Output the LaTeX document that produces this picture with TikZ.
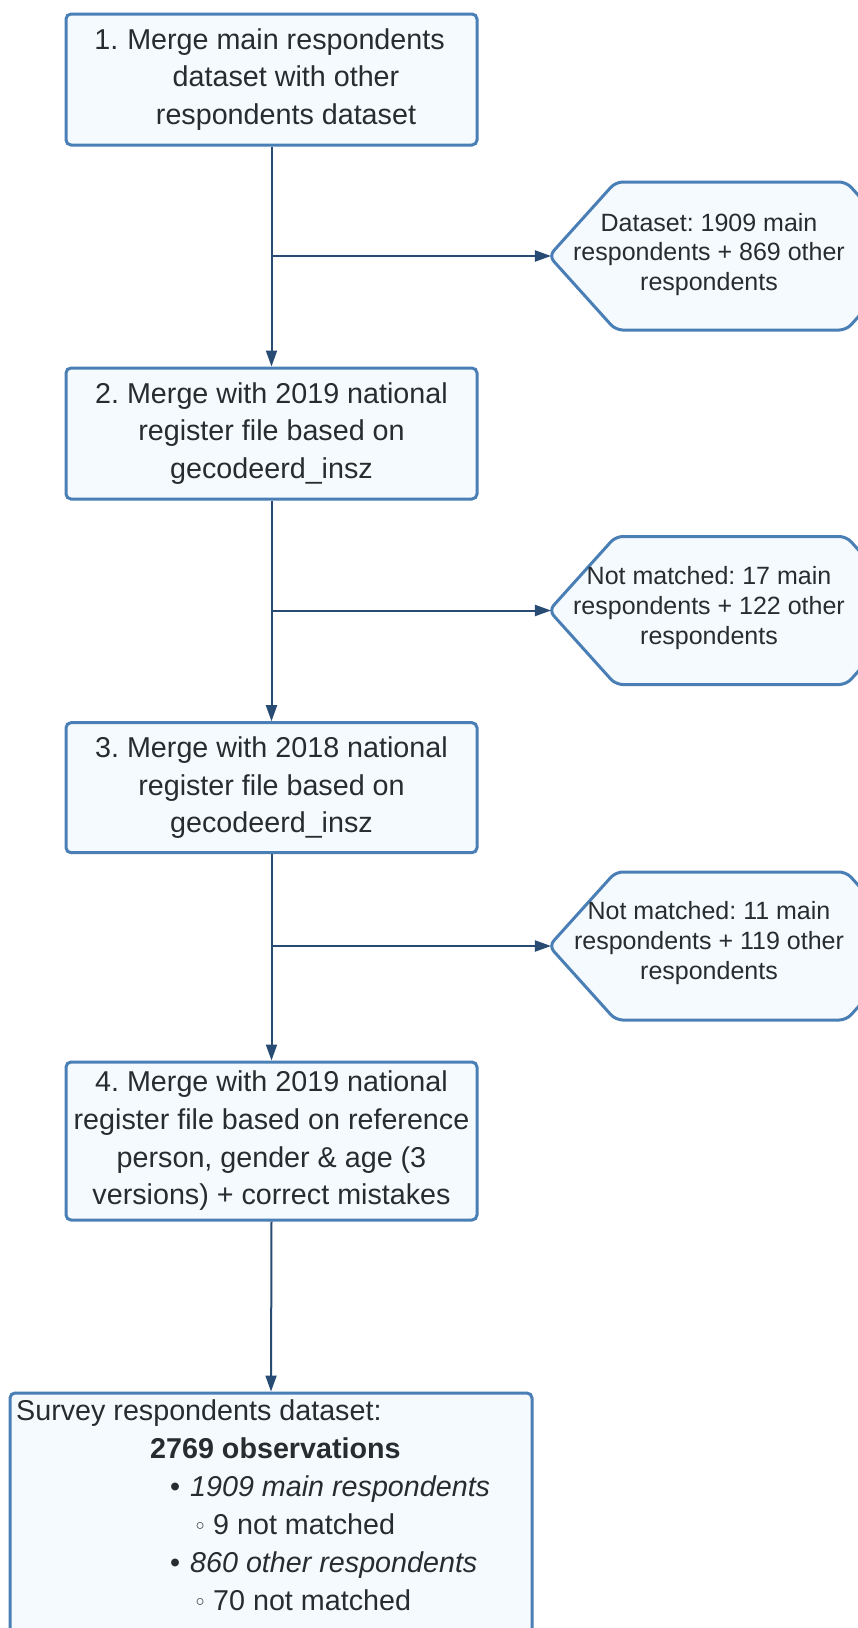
\documentclass[tikz,border=0pt]{standalone}
\usepackage{fontspec}
\setmainfont{Liberation Sans}
\newfontfamily\dejavu{DejaVu Sans}
\usetikzlibrary{arrows.meta,shapes.symbols}
\definecolor{bordc}{HTML}{4A7FB6}
\definecolor{linec}{HTML}{284B73}
\definecolor{fillc}{HTML}{F5FAFF}
\definecolor{txtc}{HTML}{282C30}
\frenchspacing
\begin{document}
\begin{tikzpicture}[x=1pt,y=-1pt,
  stepbox/.style={draw=bordc, line width=3pt, fill=fillc, rounded corners=5pt, minimum width=411pt, align=center, text=txtc, font=\fontsize{28.7}{37.7}\selectfont\frenchspacing, inner sep=0pt},
  resultbox/.style={draw=bordc, line width=3pt, fill=fillc, rounded corners=5pt, minimum width=522pt, minimum height=260pt, inner sep=0pt},
  hexbox/.style={signal, signal to=west and east, signal pointer angle=96, draw=bordc, line width=3pt, fill=fillc, rounded corners=7pt, minimum width=364pt, minimum height=148pt, inner sep=0pt},
  hextext/.style={align=center, text=txtc, font=\fontsize{25}{29.8}\selectfont\frenchspacing, inner sep=0pt},
  listtext/.style={anchor=base west, text=txtc, font=\fontsize{28.7}{37.7}\selectfont\frenchspacing, inner sep=0pt},
  conn/.style={draw=linec, line width=2pt},
  arr/.style={conn, -{Triangle[length=16pt,width=11pt]}},
  harr/.style={arr, shorten >=-4pt}
]
\useasboundingbox (0,0) rectangle (858,1628);
\clip (0,0) rectangle (858,1628);
\fill[white] (0,0) rectangle (858,1628);

% step boxes
\node[stepbox, minimum height=131pt] (b1) at (271.5,79.5)
  {\hspace*{29pt}\llap{1.\hspace{9pt}}Merge main respondents\\\hspace*{29pt}dataset with other\\\hspace*{29pt}respondents dataset};
\node[stepbox, minimum height=131pt] (b2) at (271.5,433.5)
  {2. Merge with 2019 national\\register file based on\\gecodeerd\_insz};
\node[stepbox, minimum height=130pt] (b3) at (271.5,787.7)
  {3. Merge with 2018 national\\register file based on\\gecodeerd\_insz};
\node[stepbox, minimum height=158pt] (b4) at (271.5,1141)
  {4. Merge with 2019 national\\register file based on reference\\person, gender \& age (3\\versions) + correct mistakes};
\node[resultbox] (b5) at (271,1523) {};

% hexagons
\node[hexbox] (h1) at (731,256) {};
\node[hextext] (h1t) at (709,254.5) {Dataset: 1909 main\\respondents + 869 other\\respondents};
\node[hexbox] (h2) at (731,610.5) {};
\node[hextext] (h2t) at (709,607.8) {Not matched: 17 main\\respondents + 122 other\\respondents};
\node[hexbox] (h3) at (731,946) {};
\node[hextext] (h3t) at (709,942.8) {Not matched: 11 main\\respondents + 119 other\\respondents};

% result text
\node[listtext] (r1) at (16,1420) {Survey respondents dataset:};
\node[listtext] (r2) at (150,1458) {\textbf{2769 observations}};
\node[listtext] (r3) at (190,1496) {\llap{\makebox[16pt][c]{•}\hspace{7pt}}\textit{1909 main respondents}};
\node[listtext] (r4) at (213,1534) {\llap{\makebox[16pt][c]{\dejavu\fontsize{23}{23}\selectfont ◦}\hspace{5pt}}9 not matched};
\node[listtext] (r5) at (190,1572) {\llap{\makebox[16pt][c]{•}\hspace{7pt}}\textit{860 other respondents}};
\node[listtext] (r6) at (213,1610) {\llap{\makebox[16pt][c]{\dejavu\fontsize{23}{23}\selectfont ◦}\hspace{5pt}}70 not matched};

% connectors
\draw[arr] (b1.south) -- (b2.north);
\draw[arr] (b2.south) -- (b3.north);
\draw[arr] (b3.south) -- (b4.north);
\draw[arr] (b4.south) -- (b5.north);
\coordinate (j1) at (b1.south |- h1.west);
\coordinate (j2) at (b2.south |- h2.west);
\coordinate (j3) at (b3.south |- h3.west);
\draw[harr] (j1) -- (h1.west);
\draw[harr] (j2) -- (h2.west);
\draw[harr] (j3) -- (h3.west);
\end{tikzpicture}
\end{document}
